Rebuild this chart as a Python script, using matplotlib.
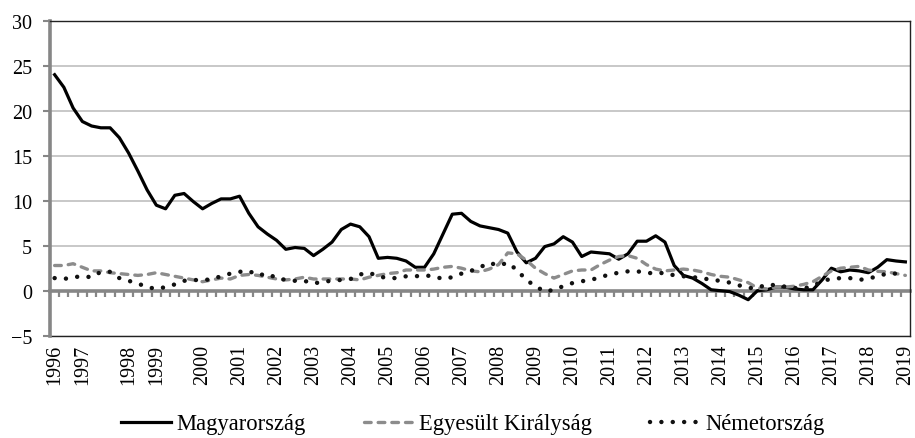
import numpy as np
import matplotlib
matplotlib.use('Agg')
import matplotlib.pyplot as plt

plt.rcParams['font.family'] = ['Liberation Serif', 'DejaVu Serif']

# quarterly values, 1996 Q1 .. 2019 Q1
hu = [24.0, 22.6, 20.3, 18.8, 18.3, 18.1, 18.1, 17.0, 15.3, 13.3, 11.2, 9.5,
      9.1, 10.6, 10.8, 9.9, 9.1, 9.7, 10.2, 10.2, 10.5, 8.6, 7.1, 6.3,
      5.6, 4.6, 4.8, 4.7, 3.9, 4.6, 5.4, 6.8, 7.4, 7.1, 6.0, 3.6,
      3.7, 3.6, 3.3, 2.6, 2.6, 4.1, 6.3, 8.5, 8.6, 7.7, 7.2, 7.0,
      6.8, 6.4, 4.3, 3.1, 3.6, 4.9, 5.2, 6.0, 5.4, 3.8, 4.3, 4.2,
      4.1, 3.5, 4.1, 5.5, 5.5, 6.1, 5.4, 2.8, 1.7, 1.4, 0.8, 0.1,
      0.0, -0.1, -0.5, -1.0, 0.0, 0.1, 0.4, 0.4, 0.2, 0.1, 0.1, 1.2,
      2.5, 2.1, 2.3, 2.2, 2.0, 2.6, 3.45, 3.3, 3.2]
uk = [2.8, 2.8, 3.0, 2.6, 2.2, 2.2, 2.0, 1.9, 1.8, 1.7, 1.8, 2.0,
      1.8, 1.6, 1.4, 1.2, 1.0, 1.2, 1.4, 1.3, 1.7, 1.8, 1.7, 1.5,
      1.3, 1.2, 1.3, 1.5, 1.3, 1.3, 1.3, 1.3, 1.3, 1.2, 1.5, 1.7,
      1.9, 2.0, 2.3, 2.3, 2.3, 2.4, 2.6, 2.7, 2.5, 2.2, 2.1, 2.4,
      2.9, 4.2, 4.1, 3.4, 2.5, 1.9, 1.4, 1.8, 2.2, 2.3, 2.3, 2.9,
      3.4, 3.8, 3.9, 3.6, 2.9, 2.4, 2.2, 2.3, 2.4, 2.3, 2.1, 1.8,
      1.6, 1.5, 1.2, 0.9, 0.3, 0.2, 0.4, 0.4, 0.5, 0.7, 1.0, 1.6,
      2.2, 2.5, 2.6, 2.7, 2.3, 2.15, 2.1, 1.9, 1.7]
de = [1.4, 1.3, 1.5, 1.6, 1.5, 2.1, 2.1, 1.4, 1.1, 0.8, 0.4, 0.2,
      0.4, 0.7, 1.1, 1.2, 1.15, 1.3, 1.6, 1.9, 2.1, 2.2, 1.7, 1.9,
      1.4, 1.2, 1.1, 1.1, 0.8, 1.0, 1.1, 1.2, 1.3, 1.8, 2.0, 1.6,
      1.4, 1.4, 1.6, 1.6, 1.7, 1.6, 1.3, 1.5, 1.9, 2.2, 2.6, 3.1,
      2.8, 3.1, 2.3, 1.2, 0.5, -0.1, 0.1, 0.5, 0.85, 1.05, 1.2, 1.5,
      1.8, 2.0, 2.15, 2.15, 2.0, 1.9, 2.0, 1.7, 1.6, 1.5, 1.4, 1.2,
      1.1, 0.9, 0.6, 0.3, 0.3, 0.7, 0.6, 0.45, 0.3, 0.25, 0.5, 1.1,
      1.3, 1.4, 1.4, 1.2, 1.35, 1.6, 1.9, 1.9, 1.8]

year_labels = [str(y) for y in range(1996, 2020)]
label_idx = [0, 3, 8, 11] + list(range(16, 93, 4))
names = ['Magyarország', 'Egyesült Királyság', 'Németország']

x = np.arange(len(hu))
gray = '#868686'

fig = plt.figure(figsize=(9.15, 4.39), dpi=100)
ax = fig.add_axes([50 / 915, 1 - 336.7 / 439, 860 / 915, 315 / 439])

ax.plot(x, hu, color='black', lw=2.3, solid_joinstyle='round',
        label=names[0], zorder=3)
ax.plot(x, uk, color='#8c8c8c', lw=2.4, ls=(0, (2.0, 2.1)),
        dash_capstyle='round', label=names[1], zorder=4)
ax.plot(x, de, color='#111111', lw=3.2, ls=(0, (0.01, 2.55)),
        dash_capstyle='round', label=names[2], zorder=5)

ax.set_xlim(-0.5, len(hu) - 0.5)
ax.set_ylim(-5, 30)
yt = list(range(-5, 31, 5))
ax.set_yticks(yt)
ax.set_yticklabels([str(v).replace('-', '\u2212') for v in yt], fontsize=14.5)
ax.yaxis.grid(True, color='#c4c4c4', lw=1.3)
ax.set_axisbelow(True)
ax.tick_params(axis='y', direction='out', length=5, width=1.5, color=gray, pad=8)

# spines
ax.spines['left'].set_color(gray)
ax.spines['left'].set_linewidth(2.6)
for s in ['top', 'right']:
    ax.spines[s].set_color('#222222')
    ax.spines[s].set_linewidth(1.0)
ax.spines['bottom'].set_position(('data', 0))
ax.spines['bottom'].set_color(gray)
ax.spines['bottom'].set_linewidth(2.6)
ax.spines['bottom'].set_zorder(2)

# small ticks between categories on the zero line
ax.set_xticks([])
ax.set_xticks(np.arange(0.5, len(hu) - 0.5, 1), minor=True)
ax.tick_params(axis='x', which='minor', direction='out', length=4.5,
               width=1.6, color=gray)

# year labels below the plot area
sec = ax.secondary_xaxis('bottom')
sec.set_xticks(label_idx)
sec.set_xticklabels(year_labels, rotation=90, fontsize=14.5)
sec.tick_params(length=0, pad=6)
sec.spines['bottom'].set_color('#222222')
sec.spines['bottom'].set_linewidth(1.0)

fig.legend(loc='center', bbox_to_anchor=(0.517, 0.032), ncol=3, frameon=False,
           fontsize=16.3, handlelength=2.2, handletextpad=0.25, columnspacing=2.55)

fig.savefig('out.png', dpi=100)
